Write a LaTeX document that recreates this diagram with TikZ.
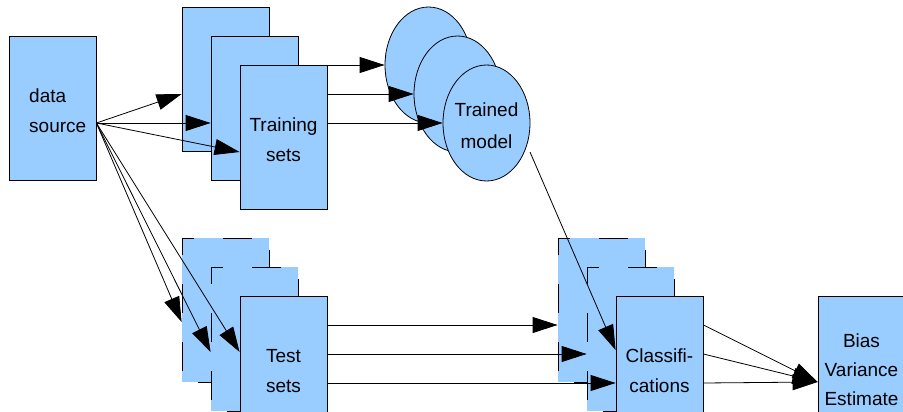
\documentclass[tikz,border=0pt]{standalone}
\usepackage{fontspec}
\setmainfont{Liberation Sans}
\usetikzlibrary{arrows.meta,shapes.geometric,calc}
\definecolor{boxblue}{RGB}{153,204,255}
\tikzset{
  card/.style={draw=black, line width=0.8pt, fill=boxblue, rectangle,
    minimum width=87pt, minimum height=144pt, inner sep=0pt},
  dashcard/.style={card, dash pattern=on 29pt off 29pt, dash phase=42pt},
  blob/.style={draw=black, line width=0.8pt, fill=boxblue, ellipse,
    minimum width=87pt, minimum height=116pt, inner sep=0pt},
  caption/.style={inner sep=0pt, align=center,
    font=\fontsize{19pt}{30pt}\selectfont},
  arr/.style={draw=black, line width=0.8pt, -{Triangle[length=25pt,width=16pt]}},
}
\begin{document}
\begin{tikzpicture}[x=1pt,y=-1pt]
\useasboundingbox (0,0) rectangle (903,412);
\clip (0,0) rectangle (903,412);

% source
\node[card] (data) at (52.5,108) {};
\node[caption, align=left, anchor=west] (dataT) at ([shift={(-23.5,3)}]data.center) {data\\source};

% training sets
\node[card] (trB) at (225.5,79) {};
\node[card] (trM) at (254.5,108) {};
\node[card] (trF) at (283.5,137) {};
\node[caption] (trT) at ([yshift=-3pt]trF.center) {Training\\sets};

% trained models
\node[blob] (elB) at (428.5,65) {};
\node[blob] (elM) at (457.5,94) {};
\node[blob] (elF) at (486.5,123) {};
\node[caption, font=\fontsize{19pt}{32pt}\selectfont] (elT) at ([yshift=-3pt]elF.center) {Trained\\model};

% test sets
\node[dashcard] (teB) at (225.5,310) {};
\node[dashcard] (teM) at (254.5,339) {};
\node[card] (teF) at (283.5,368) {};
\node[caption] (teT) at ([yshift=-3pt]teF.center) {Test\\sets};

% classifications
\node[dashcard] (clB) at (601.5,310) {};
\node[dashcard] (clM) at (630.5,339) {};
\node[card] (clF) at (659.5,368) {};
\node[caption] (clT) at ([yshift=-3pt]clF.center) {Classifi-\\cations};

% estimate
\node[card] (bias) at (861.5,368) {};
\node[caption, font=\fontsize{19pt}{29pt}\selectfont] (biasT) at ([yshift=-2pt]bias.center) {Bias\\Variance\\Estimate};

% fan-out from the source
\coordinate (src) at ([yshift=-15pt]data.east);
\draw[arr] (src) -- ([yshift=-15pt]trB.west);
\draw[arr] (src) -- ([yshift=-15pt]trM.west);
\draw[arr] (src) -- ([yshift=-15pt]trF.west);
\draw[arr] (src) -- ([yshift=-12pt]teB.west);
\draw[arr] (src) -- ([yshift=-13pt]teM.west);
\draw[arr] (src) -- ([yshift=16pt]teF.west);

% training sets to models
\draw[arr] (trF.east |- elB.west) -- (elB.west);
\draw[arr] (trF.east |- elM.west) -- (elM.west);
\draw[arr] (trF.east |- elF.west) -- (elF.west);

% test sets to classifications
\coordinate (k1) at ([yshift=-15pt]clB.west);
\coordinate (k2) at ([yshift=-15pt]clM.west);
\coordinate (k3) at ([yshift=-15pt]clF.west);
\draw[arr] (teF.east |- k1) -- (k1);
\draw[arr] (teF.east |- k2) -- (k2);
\draw[arr] (teF.east |- k3) -- (k3);

% model to classifications
\coordinate (mo) at ($(elF.center)+(43.5,29)$);
\draw[arr] (mo) -- ([yshift=18pt]clF.west);

% classifications to estimate
\coordinate (est) at ([yshift=-14pt]bias.west);
\draw[arr] (clF.east |- k1) -- (est);
\draw[arr] (clF.east |- k2) -- (est);
\draw[arr] (clF.east |- k3) -- (est);
\end{tikzpicture}
\end{document}
